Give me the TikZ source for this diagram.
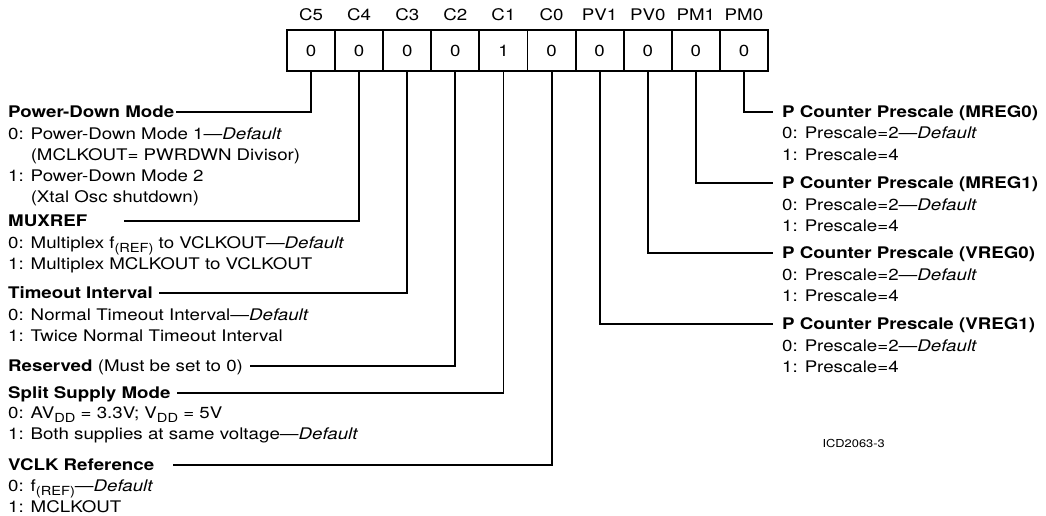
\documentclass[tikz,border=0pt]{standalone}
\usepackage{fontspec}
\setmainfont{TeX Gyre Heros}[FakeStretch=1.17]
\usetikzlibrary{calc}
\newcommand\lowsub[1]{\raisebox{-0.3em}{\fontsize{12.5}{12.5}\selectfont #1}}
\newcommand\dflt{---\textit{Default}}
\tikzset{
  txt/.style={inner sep=0pt, align=left, font=\fontsize{16}{21}\selectfont},
  head/.style={txt, anchor=west, text height=11.5pt, text depth=0pt, font=\fontsize{16}{21}\selectfont\bfseries},
  desc/.style={txt, anchor=base west},
  cell/.style={draw, line width=1.9pt, minimum width=48.1pt, minimum height=41pt, inner sep=0pt, font=\fontsize{16}{21}\selectfont},
  bitlbl/.style={inner sep=0pt, font=\fontsize{16}{21}\selectfont},
  wire/.style={line width=1.9pt},
}
\begin{document}
\begin{tikzpicture}[x=1pt, y=-1pt]
\useasboundingbox (0,0) rectangle (1046,516);
% register cells
\foreach \n/\v [count=\i from 0] in {c5/0,c4/0,c3/0,c2/0,c1/1,c0/0,pv1/0,pv0/0,pm1/0,pm0/0}{
  \node[cell] (\n) at ({287+48.1*(\i+0.5)},50.5) {\v};
}
\foreach \n/\t in {c5/C5,c4/C4,c3/C3,c2/C2,c1/C1,c0/C0,pv1/PV1,pv0/PV0,pm1/PM1,pm0/PM0}{
  \node[bitlbl] (l\n) at ($(\n.center)+(0,-35.5)$) {\t};
}
% left side (desc nodes anchored at the baseline of their LAST line)
\node[head] (pd) at (8,112) {Power-Down Mode};
\node[desc] (pdd) at (8,202) {0: Power-Down Mode 1\dflt\\\hphantom{0: }(MCLKOUT= PWRDWN Divisor)\\1: Power-Down Mode 2\\\hphantom{1: }(Xtal Osc shutdown)};
\node[head] (mux) at (8,221) {MUXREF};
\node[desc] (muxd) at (8,269) {0: Multiplex f\lowsub{(REF)} to VCLKOUT\dflt\\1: Multiplex MCLKOUT to VCLKOUT};
\node[head] (tmo) at (8,293) {Timeout Interval};
\node[desc] (tmod) at (8,341) {0: Normal Timeout Interval\dflt\\1: Twice Normal Timeout Interval};
\node[head] (res) at (8,366) {Reserved \mdseries(Must be set to 0)};
\node[head] (spl) at (8,393) {Split Supply Mode};
\node[desc] (spld) at (8,439) {0: AV\lowsub{DD} = 3.3V; V\lowsub{DD} = 5V\\1: Both supplies at same voltage\dflt};
\node[head] (vck) at (8,465) {VCLK Reference};
\node[desc] (vckd) at (8,512) {0: f\lowsub{(REF)}\dflt\\1: MCLKOUT};
% right side
\node[head] (m0) at (782,112) {P Counter Prescale (MREG0)};
\node[desc] (m0d) at (782,160) {0: Prescale=2\dflt\\1: Prescale=4};
\node[head] (m1) at (782,183) {P Counter Prescale (MREG1)};
\node[desc] (m1d) at (782,231) {0: Prescale=2\dflt\\1: Prescale=4};
\node[head] (v0) at (782,253) {P Counter Prescale (VREG0)};
\node[desc] (v0d) at (782,301) {0: Prescale=2\dflt\\1: Prescale=4};
\node[head] (v1) at (782,324) {P Counter Prescale (VREG1)};
\node[desc] (v1d) at (782,372) {0: Prescale=2\dflt\\1: Prescale=4};
\node[txt, anchor=east, font=\fontsize{11}{13}\selectfont] (icd) at (885,443) {ICD2063-3};
% connectors
\draw[wire] (c5.south) |- ([xshift=2pt]pd.east);
\draw[wire] (c4.south) |- ([xshift=37pt]mux.east);
\draw[wire] (c3.south) |- ([xshift=6pt]tmo.east);
\draw[wire] (c2.south) |- ([xshift=7pt]res.east);
\draw[wire] (c1.south) |- ([xshift=6pt]spl.east);
\draw[wire] (c0.south) |- ([xshift=19pt]vck.east);
\draw[wire] (pm0.south) |- ([xshift=-9pt]m0.west);
\draw[wire] (pm1.south) |- ([xshift=-9pt]m1.west);
\draw[wire] (pv0.south) |- ([xshift=-9pt]v0.west);
\draw[wire] (pv1.south) |- ([xshift=-9pt]v1.west);
\end{tikzpicture}
\end{document}
